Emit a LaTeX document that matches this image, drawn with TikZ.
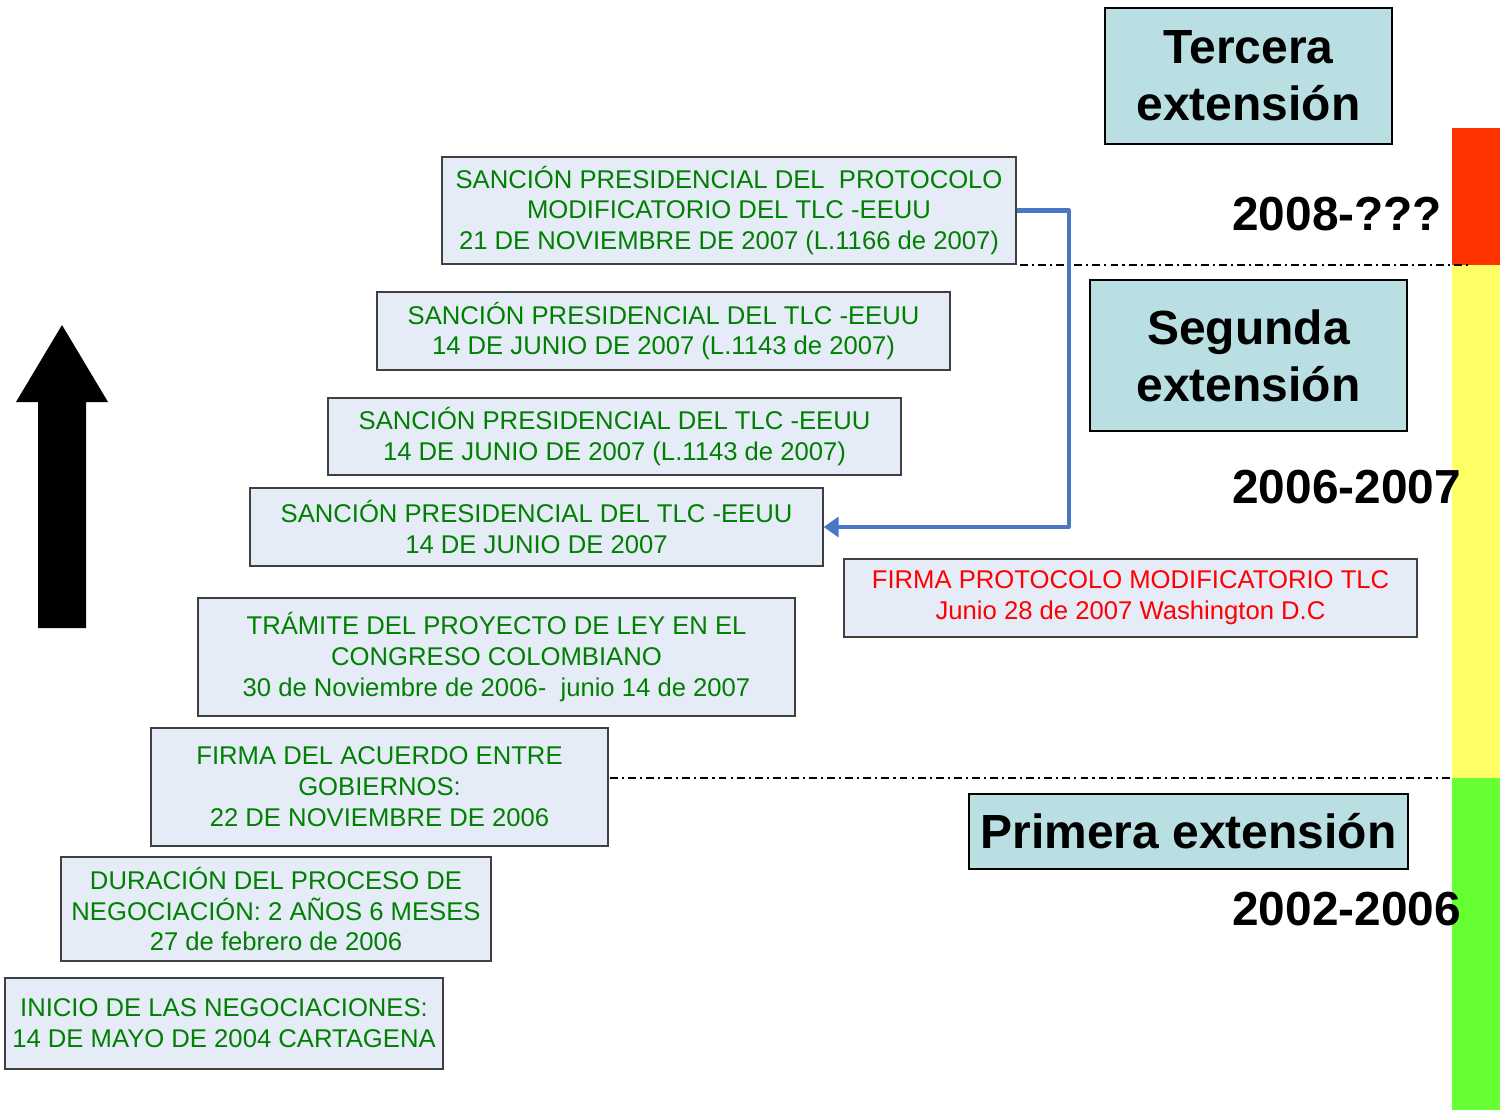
\documentclass[tikz,border=0pt]{standalone}
\usepackage{fontspec}
\setmainfont{Liberation Sans}
\usetikzlibrary{arrows.meta, positioning, calc}
\definecolor{tlcgreen}{RGB}{0,128,0}
\definecolor{tlcred}{RGB}{255,0,0}
\definecolor{boxfill}{RGB}{230,236,247}
\definecolor{titlefill}{RGB}{185,223,226}
\definecolor{linkblue}{RGB}{74,118,196}
\definecolor{barred}{RGB}{255,51,0}
\definecolor{baryellow}{RGB}{255,255,102}
\definecolor{bargreen}{RGB}{102,255,51}

\tikzset{
  evento/.style={draw=black!75, line width=0.8pt, fill=boxfill, text=tlcgreen, align=center, inner sep=0pt, font=\fontsize{14.6}{17.6}\selectfont},
  titulo/.style={draw=black, line width=1.1pt, fill=titlefill, align=center, inner sep=0pt, font=\fontsize{27.3}{32.3}\selectfont\bfseries},
  anio/.style={anchor=west, inner sep=0pt, font=\fontsize{27.2}{32}\selectfont\bfseries},
  limite/.style={line width=1.1pt, dash pattern=on 4.5pt off 2.3pt on 1.2pt off 2.3pt},
  conector/.style={linkblue, line width=2.4pt, line join=round, -{Triangle[length=8.5pt,width=11.3pt]}}
}

\begin{document}
\begin{tikzpicture}[x=0.02cm, y=-0.02cm]
    \useasboundingbox (0,0) rectangle (1500,1110);

    % Barra de colores
    \fill[barred] (1452,128) rectangle (1500,265);
    \fill[baryellow] (1452,265) rectangle (1500,778);
    \fill[bargreen] (1452,778) rectangle (1500,1110);

    % Lineas de corte
    \draw[limite] (1020,265) -- (1470,265);
    \draw[limite] (610,778) -- (1452,778);

    % Flecha
    \fill[black] (62,325) -- (108,402) -- (86,402) -- (86,628) -- (38,628) -- (38,402) -- (16,402) -- cycle;

    % Eventos
    \node[evento, minimum width=11.48cm, minimum height=2.14cm] (sancion3) at (729,210.5)
        {SANCIÓN PRESIDENCIAL DEL~ PROTOCOLO\\MODIFICATORIO DEL TLC -EEUU\\21 DE NOVIEMBRE DE 2007 (L.1166 de 2007)};
    \node[evento, minimum width=11.46cm, minimum height=1.56cm] (sancion2b) at (663.5,331)
        {SANCIÓN PRESIDENCIAL DEL TLC -EEUU\\14 DE JUNIO DE 2007 (L.1143 de 2007)};
    \node[evento, minimum width=11.46cm, minimum height=1.54cm] (sancion2a) at (614.5,436.5)
        {SANCIÓN PRESIDENCIAL DEL TLC -EEUU\\14 DE JUNIO DE 2007 (L.1143 de 2007)};
    \node[evento, minimum width=11.46cm, minimum height=1.56cm] (sancion1) at (536.5,527)
        {SANCIÓN PRESIDENCIAL DEL TLC -EEUU\\14 DE JUNIO DE 2007};
    \node[evento, minimum width=11.94cm, minimum height=2.36cm] (tramite) at (496.5,657)
        {TRÁMITE DEL PROYECTO DE LEY EN EL\\CONGRESO COLOMBIANO\\30 de Noviembre de 2006-~ junio 14 de 2007};
    \node[evento, minimum width=9.14cm, minimum height=2.36cm] (acuerdo) at (379.5,787)
        {FIRMA DEL ACUERDO ENTRE\\GOBIERNOS:\\22 DE NOVIEMBRE DE 2006};
    \node[evento, minimum width=8.6cm, minimum height=2.08cm] (duracion) at (276,909)
        {DURACIÓN DEL PROCESO DE\\NEGOCIACIÓN: 2 AÑOS 6 MESES\\27 de febrero de 2006};
    \node[evento, minimum width=8.76cm, minimum height=1.82cm] (inicio) at (224,1023.5)
        {INICIO DE LAS NEGOCIACIONES:\\14 DE MAYO DE 2004 CARTAGENA};
    \node[evento, text=tlcred, minimum width=11.46cm, minimum height=1.56cm] (protocolo) at (1130.5,598)
        {FIRMA PROTOCOLO MODIFICATORIO TLC\\Junio 28 de 2007 Washington D.C};

    % Extensiones
    \node[titulo, minimum width=5.74cm, minimum height=2.72cm] (tercera) at (1248.5,76) {Tercera\\extensión};
    \node[titulo, minimum width=6.34cm, minimum height=3.02cm] (segunda) at (1248.5,355.5) {Segunda\\extensión};
    \node[titulo, minimum width=8.78cm, minimum height=1.5cm] (primera) at (1188.5,831.5) {Primera extensión};

    % Periodos
    \node[anio] (per3) at (1232,214) {2008-???};
    \node[anio] (per2) at (1232,487) {2006-2007};
    \node[anio] (per1) at (1232,909) {2002-2006};

    % Conector
    \draw[conector] (sancion3.east) -- ++(52,0) |- (sancion1.east);

\end{tikzpicture}
\end{document}
